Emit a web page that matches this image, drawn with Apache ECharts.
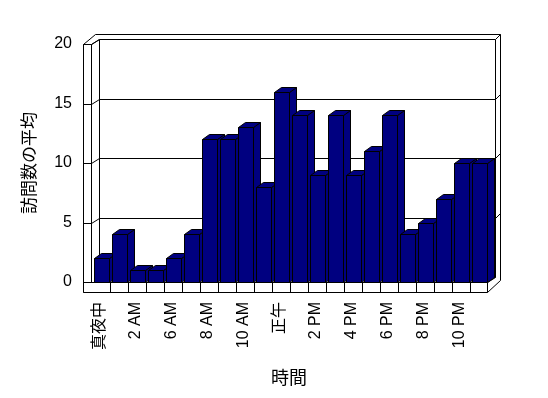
<!DOCTYPE html>
<html>
<head>
<meta charset="utf-8">
<script src="https://cdn.jsdelivr.net/npm/echarts@6/dist/echarts.min.js"></script>
<style>
	html, body { margin: 0; padding: 0; background: #fff; }
	#chart { width: 548px; height: 398px; }
</style>
</head>
<body>
<div id="chart"></div>
<script>
	// 時間帯 (ラベルは1つおきに表示)
	var hours = ['真夜中', '1 AM', '2 AM', '3 AM', '6 AM', '7 AM', '8 AM', '9 AM', '10 AM', '11 AM',
		'正午', '1 PM', '2 PM', '3 PM', '4 PM', '5 PM', '6 PM', '7 PM', '8 PM', '9 PM', '10 PM', '11 PM']
	var visits = [2, 4, 1, 1, 2, 4, 12, 12, 13, 8, 16, 14, 9, 14, 9, 11, 14, 4, 5, 7, 10, 10]
	var yTicks = [0, 5, 10, 15, 20]

	var font = '"Liberation Sans", "Noto Sans CJK JP", sans-serif'
	var navy = '#000080'
	// 奥行き (背面の壁)
	var backDx = 8, backDy = -5
	// 棒の奥行き
	var barDx = 7, barDy = -5
	var wallW = 8, floorH = 10

	var chart = echarts.init(document.getElementById('chart'))

	function line(x1, y1, x2, y2) {
		return {
			type: 'line',
			shape: { x1: x1, y1: y1, x2: x2, y2: y2 },
			style: { stroke: '#000', lineWidth: 1 }
		}
	}

	function renderFrame(params, api) {
		var cs = params.coordSys
		var l = Math.round(cs.x) + 0.5, t = Math.round(cs.y) + 0.5
		var r = l + Math.round(cs.width), b = t + Math.round(cs.height)
		var bl = l + backDx, bt = t + backDy, br = r + backDx, bb = b + backDy
		var ol = l - wallW
		var kids = []
		// 床の前面
		kids.push({
			type: 'rect',
			shape: { x: ol, y: b, width: r - ol, height: floorH },
			style: { fill: '#fff', stroke: '#000', lineWidth: 1 }
		})
		var slot = cs.width / hours.length
		for (var i = 1; i < hours.length; i++) {
			var x = Math.round(l + slot * i) + 0.5
			kids.push(line(x, b, x, b + floorH))
		}
		// 床の右端
		kids.push(line(r, b, br, bb))
		kids.push(line(r, b + floorH, br + 5, bb + 3))
		// 背面の壁
		kids.push({
			type: 'rect',
			shape: { x: bl, y: bt, width: br - bl, height: bb - bt },
			style: { fill: 'none', stroke: '#000', lineWidth: 1 }
		})
		kids.push(line(bl - 4, bt - 5, br + 5, bt - 5))
		kids.push(line(br, bt, br + 5, bt - 5))
		kids.push(line(br + 5, bt - 5, br + 5, bb + 3))
		// 左の壁
		kids.push(line(ol, t, ol, b + floorH))
		kids.push(line(l, t, l, b))
		kids.push(line(ol, t, l, t))
		kids.push(line(ol, t, bl - 4, bt - 5))
		kids.push(line(l, t, bl, bt))
		// 目盛線
		yTicks.forEach(function (v) {
			var y = Math.round(api.coord([0, v])[1]) + 0.5
			if (v > 0 && v < 20) {
				kids.push(line(bl, y + backDy, br, y + backDy))
				kids.push(line(br, y + backDy, br + 5, y + backDy - 5))
			}
			if (v > 0) {
				kids.push(line(ol, y, l, y))
				kids.push(line(l, y, bl, y + backDy))
			}
		})
		return { type: 'group', children: kids }
	}

	function renderBar(params, api) {
		var slot = api.size([1, 0])[0]
		var c = api.coord([api.value(0), 0])
		var top = Math.round(api.coord([api.value(0), api.value(1)])[1]) + 0.5
		var bottom = Math.round(c[1]) + 0.5
		var x0 = Math.round(c[0] - slot / 2 + slot * 0.17) + 0.5
		var x1 = Math.round(c[0] + slot / 2) + 0.5
		var st = { fill: navy, stroke: '#000', lineWidth: 1 }
		return {
			type: 'group',
			children: [
				{
					type: 'polygon',
					shape: { points: [[x1, top], [x1 + barDx, top + barDy], [x1 + barDx, bottom + barDy], [x1, bottom]] },
					style: st
				},
				{
					type: 'polygon',
					shape: { points: [[x0, top], [x0 + barDx, top + barDy], [x1 + barDx, top + barDy], [x1, top]] },
					style: st
				},
				{
					type: 'rect',
					shape: { x: x0, y: top, width: x1 - x0, height: bottom - top },
					style: st
				}
			]
		}
	}

	var option = {
		backgroundColor: '#fff',
		animation: false,
		grid: {
			left: 91,
			right: 61,
			top: 44,
			bottom: 116
		},
		xAxis: {
			type: 'category',
			data: hours,
			name: '時間',
			nameLocation: 'middle',
			nameGap: 88,
			nameTextStyle: { fontFamily: font, fontSize: 18, color: '#000' },
			axisLine: { show: false },
			axisTick: { show: false },
			axisLabel: {
				interval: 1,
				rotate: 90,
				margin: 20,
				fontFamily: font,
				fontSize: 16,
				color: '#000'
			}
		},
		yAxis: {
			type: 'value',
			min: 0,
			max: 20,
			interval: 5,
			name: '訪問数の平均',
			nameLocation: 'middle',
			nameGap: 52,
			nameRotate: 90,
			nameTextStyle: { fontFamily: font, fontSize: 17, color: '#000' },
			axisLine: { show: false },
			axisTick: { show: false },
			splitLine: { show: false },
			axisLabel: {
				margin: 19,
				fontFamily: font,
				fontSize: 16,
				color: '#000'
			}
		},
		series: [
			{
				type: 'custom',
				z: 1,
				silent: true,
				renderItem: renderFrame,
				data: [[0, 0]]
			},
			{
				type: 'custom',
				z: 2,
				renderItem: renderBar,
				encode: { x: 0, y: 1 },
				data: visits.map(function (v, i) { return [i, v] })
			}
		]
	}
	chart.setOption(option)
</script>
</body>
</html>
